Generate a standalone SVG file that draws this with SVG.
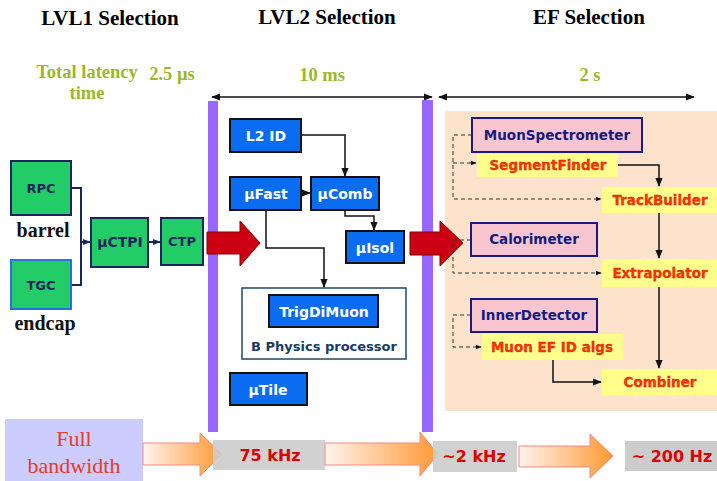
<svg xmlns="http://www.w3.org/2000/svg" width="717" height="481" viewBox="0 0 717 481">
  <style>
    .title { font-family: "Liberation Serif", serif; font-weight: bold; font-size: 21px; fill: #000; }
    .lat { font-family: "Liberation Serif", serif; font-weight: bold; font-size: 18.5px; fill: #9ab828; }
    .lbl { font-family: "Liberation Serif", serif; font-weight: bold; font-size: 20px; fill: #111; }
    .green { fill: #22cc66; stroke: #1a2560; stroke-width: 2; }
    .gtxt { font-family: "DejaVu Sans", sans-serif; font-weight: bold; font-size: 13px; fill: #1a2560; }
    .blue { fill: #0a6cf0; stroke: #111; stroke-width: 2; }
    .btxt { font-family: "DejaVu Sans", sans-serif; font-weight: bold; font-size: 14px; fill: #fff; }
    .pink { fill: #f9c6d0; stroke: #1a1a80; stroke-width: 2; }
    .ptxt { font-family: "DejaVu Sans", sans-serif; font-weight: bold; font-size: 13.5px; fill: #141a80; }
    .yel { fill: #ffff8c; }
    .ytxt { font-family: "DejaVu Sans", sans-serif; font-weight: bold; font-size: 13.5px; fill: #ff3300; stroke: #c02000; stroke-width: 0.3; }
    .gray { fill: #cccccc; }
    .rtxt { font-family: "DejaVu Sans", sans-serif; font-weight: bold; font-size: 16px; fill: #dd0000; }
    .wire { fill: none; stroke: #111; stroke-width: 1.5; }
    .nwire { fill: none; stroke: #1a2560; stroke-width: 2; }
    .dash { fill: none; stroke: #333; stroke-width: 1; stroke-dasharray: 4 3; }
    .bar { fill: #9966ff; }
    .red { fill: #cc0012; stroke: #800000; stroke-width: 1; }
    .flow { fill: url(#flowGrad); stroke: #f08a80; stroke-width: 1; }
  </style>
  <defs>
    <marker id="ah" viewBox="0 0 10 10" refX="9" refY="5" markerWidth="6" markerHeight="6" orient="auto-start-reverse">
      <path d="M0,1 L10,5 L0,9 z" fill="#111"/>
    </marker>
    <marker id="ahn" viewBox="0 0 10 10" refX="9" refY="5" markerWidth="4" markerHeight="4" orient="auto">
      <path d="M0,1 L10,5 L0,9 z" fill="#1a2560"/>
    </marker>
    <linearGradient id="flowGrad" x1="0" y1="0" x2="1" y2="0">
      <stop offset="0" stop-color="#fff4ee"/>
      <stop offset="1" stop-color="#ff9933"/>
    </linearGradient>
  </defs>

  <!-- stage headings -->
  <text class="title" x="110" y="25" text-anchor="middle">LVL1 Selection</text>
  <text class="title" x="327" y="24" text-anchor="middle">LVL2 Selection</text>
  <text class="title" x="589" y="24" text-anchor="middle">EF Selection</text>

  <!-- latency labels -->
  <text class="lat" x="87" y="78" text-anchor="middle">Total latency</text>
  <text class="lat" x="87" y="99" text-anchor="middle">time</text>
  <text class="lat" x="172" y="80" text-anchor="middle">2.5 µs</text>
  <text class="lat" x="322" y="81" text-anchor="middle">10 ms</text>
  <text class="lat" x="590" y="81" text-anchor="middle">2 s</text>
  <line class="wire" x1="212" y1="97" x2="432" y2="97" marker-start="url(#ah)" marker-end="url(#ah)"/>
  <line class="wire" x1="439" y1="97" x2="694" y2="97" marker-start="url(#ah)" marker-end="url(#ah)"/>

  <!-- EF processing area -->
  <rect x="445" y="111" width="272" height="300" fill="#fde3cb"/>

  <!-- stage boundaries -->
  <rect class="bar" x="208" y="101" width="10" height="331"/>
  <rect class="bar" x="422" y="100" width="11" height="332"/>

  <!-- connectors -->
  <g id="connectors">
    <path class="nwire" d="M71,188 H81 V285 H71"/>
    <line class="nwire" x1="81" y1="242" x2="90" y2="242" marker-end="url(#ahn)"/>
    <line class="nwire" x1="148" y1="242" x2="160" y2="242" marker-end="url(#ahn)"/>
    <polygon class="red" points="207,232 240,232 240,221 260,243 240,266 240,254 207,254"/>
    <polygon class="red" points="410,232 440,232 440,221 463,243 440,266 440,255 410,255"/>

    <path class="wire" d="M301,135 H345 V176" marker-end="url(#ah)"/>
    <line class="wire" x1="301" y1="193" x2="310" y2="193" marker-end="url(#ah)"/>
    <path class="wire" d="M345,210 V216 H374 V230" marker-end="url(#ah)"/>
    <path class="wire" d="M266,210 V248 H324 V287" marker-end="url(#ah)"/>

    <path class="dash" d="M472,135 H453 V199 H601" marker-end="url(#ah)"/>
    <path class="dash" d="M453,163 H476" marker-end="url(#ah)"/>
    <path class="dash" d="M471,240 H453 V273 H601" marker-end="url(#ah)"/>
    <path class="dash" d="M471,315 H453 V347 H481" marker-end="url(#ah)"/>
    <path class="wire" d="M618,165 H659 V186" marker-end="url(#ah)"/>
    <line class="wire" x1="659" y1="213" x2="659" y2="258" marker-end="url(#ah)"/>
    <line class="wire" x1="659" y1="287" x2="659" y2="368" marker-end="url(#ah)"/>
    <path class="wire" d="M553,360 V382 H601" marker-end="url(#ah)"/>
  </g>

  <!-- LVL1 -->
  <g id="rpc"><rect class="green" x="11" y="161" width="60" height="54"/><text class="gtxt" x="41" y="193" text-anchor="middle">RPC</text></g>
  <text class="lbl" x="43" y="237" text-anchor="middle">barrel</text>
  <g id="tgc"><rect class="green" x="11" y="260" width="60" height="49" style="stroke:#2a6ee0"/><text class="gtxt" x="41" y="290" text-anchor="middle">TGC</text></g>
  <text class="lbl" x="45" y="330" text-anchor="middle">endcap</text>
  <g id="muctpi"><rect class="green" x="91" y="218" width="57" height="49"/><text class="gtxt" x="120" y="247" text-anchor="middle" style="font-size:14px">µCTPI</text></g>
  <g id="ctp"><rect class="green" x="161" y="218" width="42" height="47"/><text class="gtxt" x="182" y="246" text-anchor="middle">CTP</text></g>

  <!-- LVL2 -->
  <g id="l2id"><rect class="blue" x="230" y="119" width="71" height="33"/><text class="btxt" x="266" y="141" text-anchor="middle">L2 ID</text></g>
  <g id="mufast"><rect class="blue" x="230" y="177" width="71" height="33"/><text class="btxt" x="266" y="199" text-anchor="middle">µFast</text></g>
  <g id="mucomb"><rect class="blue" x="311" y="177" width="68" height="33"/><text class="btxt" x="345" y="199" text-anchor="middle">µComb</text></g>
  <g id="muisol"><rect class="blue" x="346" y="231" width="58" height="32"/><text class="btxt" x="375" y="253" text-anchor="middle">µIsol</text></g>
  <g id="bphys">
    <rect x="242" y="288" width="164" height="71" fill="#fff" stroke="#1a4a6a" stroke-width="1.5"/>
    <rect class="blue" x="269" y="295" width="109" height="32"/>
    <text class="btxt" x="324" y="317" text-anchor="middle">TrigDiMuon</text>
    <text class="gtxt" x="324" y="351" text-anchor="middle" style="fill:#1a3a66">B Physics processor</text>
  </g>
  <g id="mutile"><rect class="blue" x="230" y="373" width="77" height="32"/><text class="btxt" x="268" y="395" text-anchor="middle">µTile</text></g>

  <!-- EF -->
  <g id="muonspec"><rect class="pink" x="472" y="118" width="170" height="34"/><text class="ptxt" x="557" y="140" text-anchor="middle">MuonSpectrometer</text></g>
  <g id="segfinder"><rect class="yel" x="477" y="154" width="141" height="23"/><text class="ytxt" x="548" y="170" text-anchor="middle">SegmentFinder</text></g>
  <g id="trackbuilder"><rect class="yel" x="602" y="187" width="115" height="26"/><text class="ytxt" x="660" y="205" text-anchor="middle">TrackBuilder</text></g>
  <g id="calo"><rect class="pink" x="471" y="223" width="126" height="33"/><text class="ptxt" x="534" y="244" text-anchor="middle">Calorimeter</text></g>
  <g id="extrap"><rect class="yel" x="602" y="259" width="115" height="28"/><text class="ytxt" x="660" y="278" text-anchor="middle">Extrapolator</text></g>
  <g id="innerdet"><rect class="pink" x="471" y="299" width="126" height="33"/><text class="ptxt" x="534" y="320" text-anchor="middle">InnerDetector</text></g>
  <g id="muonefid"><rect class="yel" x="482" y="334" width="141" height="26"/><text class="ytxt" x="552" y="352" text-anchor="middle">Muon EF ID algs</text></g>
  <g id="combiner"><rect class="yel" x="602" y="369" width="115" height="26"/><text class="ytxt" x="660" y="387" text-anchor="middle">Combiner</text></g>

  <!-- rate reduction row -->
  <g id="fullbw">
    <rect x="5" y="419" width="138" height="62" fill="#ccccff"/>
    <text x="74" y="446" text-anchor="middle" style="font-family:'Liberation Serif',serif;font-size:22px;fill:#e83a2a">Full</text>
    <text x="74" y="473" text-anchor="middle" style="font-family:'Liberation Serif',serif;font-size:22px;fill:#e83a2a">bandwidth</text>
  </g>
  <polygon class="flow" points="143,443 200,443 200,433 222,454 200,476 200,465 143,465"/>
  <g id="r75"><rect class="gray" x="213" y="440" width="112" height="30" opacity="0.9"/><text class="rtxt" x="270" y="461" text-anchor="middle">75 kHz</text></g>
  <polygon class="flow" points="325,443 420,443 420,432 438,454 420,476 420,465 325,465"/>
  <g id="r2k"><rect class="gray" x="433" y="441" width="84" height="31" opacity="0.9"/><text class="rtxt" x="474" y="462" text-anchor="middle">~2 kHz</text></g>
  <polygon class="flow" points="519,446 590,446 590,434 613,456 590,478 590,467 519,467"/>
  <g id="r200"><rect class="gray" x="625" y="441" width="92" height="30"/><text class="rtxt" x="672" y="462" text-anchor="middle">~ 200 Hz</text></g>
</svg>
